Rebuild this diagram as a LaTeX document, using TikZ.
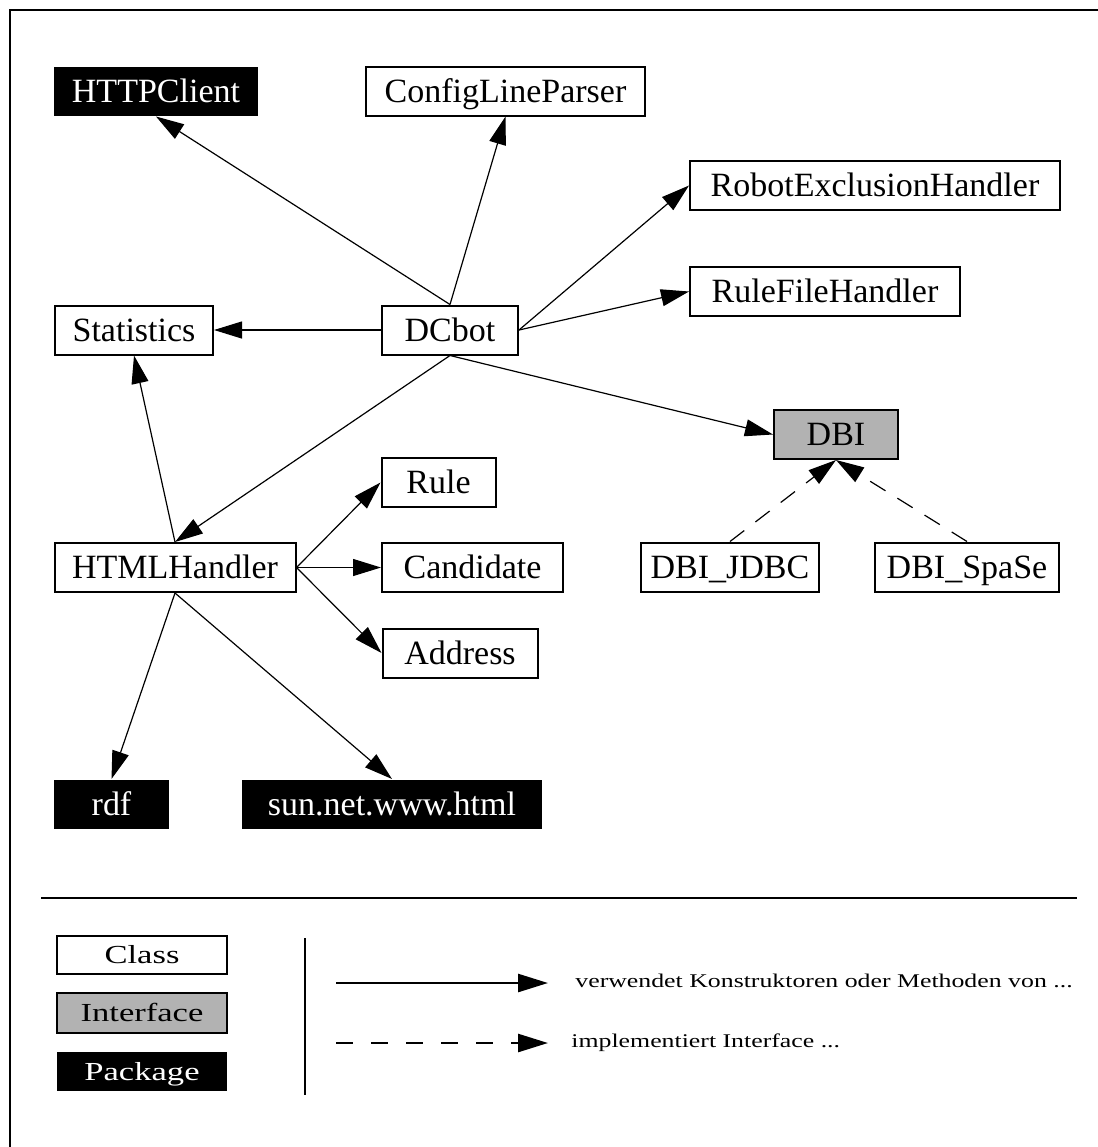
\documentclass[tikz,border=0pt]{standalone}
\usepackage{fontspec}
\setmainfont{Liberation Serif}
\usepackage{graphicx}
\usetikzlibrary{arrows.meta}

\begin{document}
\begin{tikzpicture}[x=0.5pt, y=-0.5pt, >={Triangle[length=14pt,width=8.5pt]},
   cls/.style={draw, line width=1pt, fill=white, inner sep=0pt, minimum height=24.5pt,
     text height=11.2pt, text depth=0pt, font=\fontsize{17}{19}\selectfont},
   iface/.style={cls, fill=black!30},
   pkg/.style={cls, draw=none, fill=black, text=white},
   uses/.style={->, line width=0.6pt},
   impl/.style={->, line width=0.6pt, dash pattern=on 9pt off 7pt},
   key/.style={draw, line width=1pt, inner sep=0pt, minimum width=85pt,
     text height=8.6pt, text depth=0pt, font=\fontsize{13}{15}\selectfont},
   keytext/.style={inner sep=0pt, anchor=mid west, font=\fontsize{9.7}{11}\selectfont}
   ]
   \useasboundingbox (0,0) rectangle (1098,1147);

   % frame
   \draw[line width=1.2pt] (10,1147) -- (10,10) -- (1098,10);

   \path (156,91) node[pkg, minimum width=102pt] (http) {HTTPClient}
   (505.5,91) node[cls, minimum width=139.5pt] (cfg) {ConfigLineParser}
   (875,185.5) node[cls, minimum width=185pt] (robot) {RobotExclusionHandler}
   (825,291.5) node[cls, minimum width=135pt] (rulefile) {RuleFileHandler};
   \path (134,330) node[cls, minimum width=79pt] (stats) {Statistics}
   (450,330) node[cls, minimum width=68pt] (dcbot) {DCbot}
   (836,434.5) node[iface, minimum width=62pt] (dbi) {DBI};
   \path (438.5,482.5) node[cls, minimum width=57pt] (rule) {Rule}
   (175,567.5) node[cls, minimum width=120.5pt] (html) {HTMLHandler}
   (472.5,567.5) node[cls, minimum width=90.5pt] (cand) {Candidate}
   (460,653) node[cls, minimum width=77.5pt] (addr) {Address}
   (730,567) node[cls, minimum width=89pt] (jdbc) {DBI\_JDBC}
   (967,567) node[cls, minimum width=92pt] (spase) {DBI\_SpaSe};
   \path (111.5,804.5) node[pkg, minimum width=57.5pt] (rdf) {rdf}
   (392,804.5) node[pkg, minimum width=150pt] (sun) {sun.net.www.html};

   \draw[uses] (dcbot.north) -- (http.south);
   \draw[uses] (dcbot.north) -- (cfg.south);
   \draw[uses] (dcbot.east) -- (robot.west);
   \draw[uses] (dcbot.east) -- (rulefile.west);
   \draw[uses] (dcbot.west) -- (stats.east);
   \draw[uses] (dcbot.south) -- (html.north);
   \draw[uses] (dcbot.south) -- (dbi.west);
   \draw[uses] (html.north) -- (stats.south);
   \draw[uses] (html.east) -- (rule.west);
   \draw[uses] (html.east) -- (cand.west);
   \draw[uses] (html.east) -- (addr.west);
   \draw[uses] (html.south) -- (rdf.north);
   \draw[uses] (html.south) -- (sun.north);
   \draw[impl] (jdbc.north) -- (dbi.south);
   \draw[impl] (spase.north) -- (dbi.south);

   % legend
   \draw[line width=1.3pt] (41,898) -- (1077,898);
   \draw[line width=1.1pt] (305,938) -- (305,1095);
   \path (142,955) node[key, fill=white, minimum height=19pt] (kclass) {\scalebox{1.33}[1]{Class}}
   (142,1013) node[key, fill=black!30, minimum height=20pt] (kiface) {\scalebox{1.33}[1]{Interface}}
   (142,1071.5) node[key, draw=none, fill=black, text=white, minimum height=19.5pt] (kpkg) {\scalebox{1.33}[1]{Package}};

   \coordinate (u1) at (336,983);
   \coordinate (u2) at (548,983);
   \coordinate (i1) at (336,1043);
   \coordinate (i2) at (548,1043);
   \draw[->, >={Triangle[length=15pt,width=9pt]}, line width=1.3pt] (u1) -- (u2);
   \draw[->, >={Triangle[length=15pt,width=9pt]}, line width=1.3pt, dash pattern=on 8.5pt off 9pt] (i1) -- (i2);
   \node[keytext] (usestext) at (575,983) {\scalebox{1.33}[1]{verwendet Konstruktoren oder Methoden von ...}};
   \node[keytext] (impltext) at (571,1043) {\scalebox{1.33}[1]{implementiert Interface ...}};
\end{tikzpicture}
\end{document}
